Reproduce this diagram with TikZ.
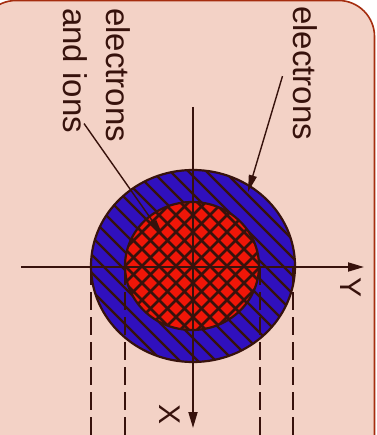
\documentclass[tikz,border=0pt]{standalone}
\usepackage{fontspec}
\setmainfont{Liberation Sans}
\usetikzlibrary{arrows.meta,calc}
\definecolor{panel}{RGB}{243,210,198}
\definecolor{frame}{RGB}{165,45,15}
\definecolor{ink}{RGB}{55,18,12}
\definecolor{beamblue}{RGB}{48,16,190}
\definecolor{beamred}{RGB}{240,22,8}

\begin{document}
\begin{tikzpicture}[
    x=1pt,y=-1pt,
    axis/.style={ink,line width=1.8pt},
    guide/.style={ink,line width=1.8pt,dash pattern=on 18pt off 7pt},
    hatch/.style={ink,line width=2.2pt},
    cross/.style={ink,line width=2.6pt},
    rim/.style={ink,line width=2.2pt},
    lead/.style={ink,line width=1.4pt},
    lbl/.style={rotate=-90,font=\fontsize{33}{43}\selectfont,text=ink,inner sep=0pt},
    axlbl/.style={rotate=-90,font=\fontsize{30}{36}\selectfont,text=ink,inner sep=0pt},
    >={Triangle[length=16pt,width=9pt]}
]
\useasboundingbox (0,0) rectangle (376,435);
\begin{scope}
\clip (0,0) rectangle (376,435);
\draw[frame,fill=panel,line width=1.6pt,rounded corners=36pt] (-20,0.5) rectangle (374.5,470);
\end{scope}

% beam cross-section
\begin{scope}[shift={(193,266)}]
\fill[beamblue] (0,0) ellipse [x radius=102pt, y radius=96pt];
\begin{scope}
\clip (0,0) ellipse [x radius=102pt, y radius=96pt];
\foreach \k in {-14,...,14}
  \draw[hatch] (\k*18-130,-130) -- ++(260,260);
\end{scope}
\fill[beamred] (-1,0) ellipse [x radius=67pt, y radius=64pt];
\begin{scope}
\clip (-1,0) ellipse [x radius=67pt, y radius=64pt];
\foreach \k in {-10,...,10} {
  \draw[cross] (\k*17-90,-90) -- ++(180,180);
  \draw[cross] (\k*17-90,90) -- ++(180,-180);
}
\end{scope}
\draw[rim] (0,0) ellipse [x radius=102pt, y radius=96pt];
\draw[rim] (-1,0) ellipse [x radius=67pt, y radius=64pt];
\end{scope}

% projections
\foreach \x in {91,125,260,293}
  \draw[guide] (\x,267) -- (\x,436);

% axes
\coordinate (yFrom) at (21,267);
\coordinate (yTo) at (364,267);
\coordinate (xFrom) at (193,107);
\coordinate (xTo) at (193,428);
\draw[axis,->] (yFrom) -- (yTo);
\draw[axis,->] (xFrom) -- (xTo);
\node[axlbl] (ylab) at (351,288) {Y};
\node[axlbl] (xlab) at (170,415) {X};

% labels
\node[lbl,anchor=base west] (elec) at (293,6) {electrons};
\node[lbl,anchor=north west,align=left] (elecion) at (131,8) {electrons\\and ions};
\coordinate (eTip) at (248,192);
\coordinate (iTip) at (163,236);
\coordinate (eFoot) at ($(elec.south)+(-10,3)$);
\coordinate (iFoot) at ($(elecion.east)!-0.2!(iTip)$);
\draw[lead,-{Triangle[length=17pt,width=8pt]}] (eFoot) -- (eTip);
\draw[lead,-{Triangle[length=17pt,width=7pt]}] (iFoot) -- (iTip);
\end{tikzpicture}
\end{document}
